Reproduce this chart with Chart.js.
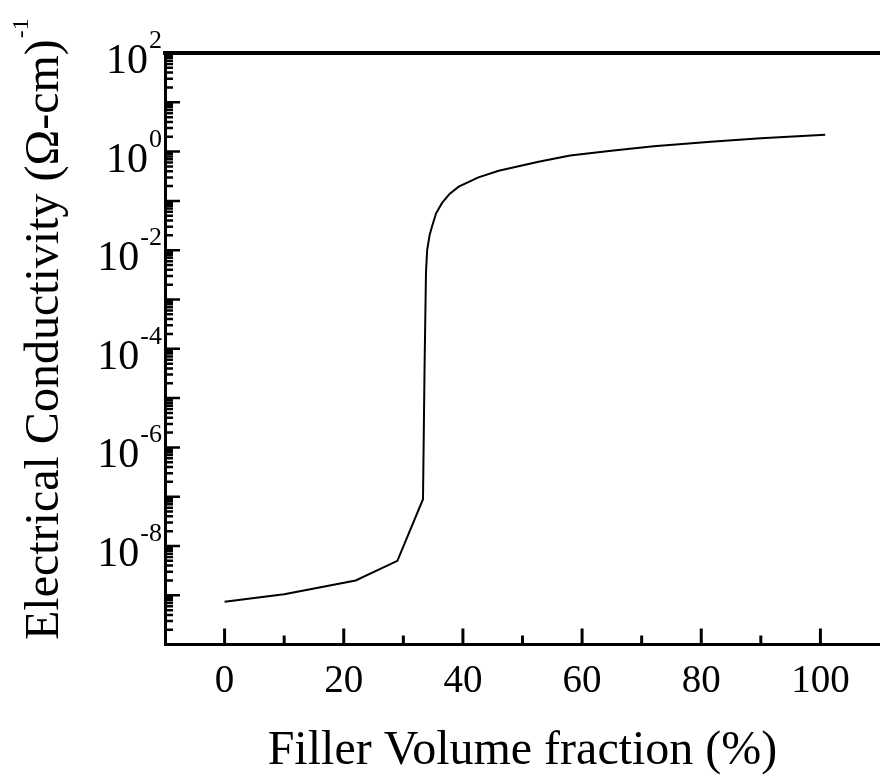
<!DOCTYPE html>
<html>
<head>
<meta charset="utf-8">
<script src="https://cdn.jsdelivr.net/npm/chart.js@4/dist/chart.umd.min.js"></script>
<style>
  html, body { margin: 0; padding: 0; background: #fff; }
  #wrap { width: 880px; height: 780px; }
</style>
</head>
<body>
<div id="wrap"><canvas id="chart" width="880" height="780"></canvas></div>
<script>
// filler volume fraction (%) and conductivity (ohm-cm)^-1
const fillerPct = [0, 10, 22, 29, 33.3, 33.55, 33.8, 34.0, 34.4, 34.8, 35.5, 36.5, 37.8, 39.3, 42.6, 46, 52.7, 58, 64.9, 72, 81.6, 90, 100.8];
const conductivity = [7.4e-10, 1.05e-9, 2.0e-9, 5.0e-9, 8.9e-8, 3.2e-5, 3.5e-3, 0.01, 0.02, 0.03, 0.056, 0.091, 0.14, 0.195, 0.30, 0.41, 0.62, 0.83, 1.04, 1.29, 1.58, 1.86, 2.19];

const xTicks = [0, 20, 40, 60, 80, 100];
const xMinorTicks = [10, 30, 50, 70, 90];
const yLabelExps = [2, 0, -2, -4, -6, -8];

const xTitle = 'Filler Volume fraction (%)';
const yTitle = 'Electrical Conductivity (\u03A9-cm)';
const yTitleSup = '-1';

const FONT = '"Liberation Serif", "Times New Roman", serif';

const axesPlugin = {
  id: 'axesPlugin',
  afterDraw(chart) {
    const ctx = chart.ctx;
    const area = chart.chartArea;
    const xs = chart.scales.x, ys = chart.scales.y;
    ctx.save();
    ctx.strokeStyle = '#000';

    // thick top frame
    ctx.lineWidth = 4;
    ctx.beginPath();
    ctx.moveTo(area.left - 2, area.top);
    ctx.lineTo(area.right, area.top);
    ctx.stroke();

    // inward x ticks
    ctx.lineWidth = 3;
    ctx.beginPath();
    xTicks.forEach(v => {
      const px = xs.getPixelForValue(v);
      ctx.moveTo(px, area.bottom); ctx.lineTo(px, area.bottom - 16);
    });
    xMinorTicks.forEach(v => {
      const px = xs.getPixelForValue(v);
      ctx.moveTo(px, area.bottom); ctx.lineTo(px, area.bottom - 9);
    });
    ctx.stroke();

    // inward y ticks, decades and 2..9 minors
    ctx.lineWidth = 2.5;
    ctx.beginPath();
    for (let e = -10; e <= 2; e++) {
      const py = ys.getPixelForValue(Math.pow(10, e));
      ctx.moveTo(area.left, py); ctx.lineTo(area.left + 15, py);
      if (e === 2) continue;
      for (let m = 2; m <= 9; m++) {
        const pm = ys.getPixelForValue(m * Math.pow(10, e));
        ctx.moveTo(area.left, pm); ctx.lineTo(area.left + 8, pm);
      }
    }
    ctx.stroke();

    // y tick labels 10^n
    ctx.fillStyle = '#000';
    ctx.textBaseline = 'alphabetic';
    yLabelExps.forEach(e => {
      const py = ys.getPixelForValue(Math.pow(10, e));
      ctx.font = '42px ' + FONT;
      const wBase = ctx.measureText('10').width;
      ctx.font = '26px ' + FONT;
      const wExp = ctx.measureText(String(e)).width;
      const right = 162;
      ctx.font = '42px ' + FONT;
      ctx.textAlign = 'left';
      ctx.fillText('10', right - wExp - wBase - 1, py + 20);
      ctx.font = '26px ' + FONT;
      ctx.fillText(String(e), right - wExp, py - 5);
    });

    // y title with superscript
    ctx.translate(58, 640);
    ctx.rotate(-Math.PI / 2);
    ctx.font = '48px ' + FONT;
    ctx.textAlign = 'left';
    ctx.fillText(yTitle, 0, 0);
    const w = ctx.measureText(yTitle).width;
    ctx.font = '24px ' + FONT;
    ctx.fillText(yTitleSup, w + 1, -30);
    ctx.restore();
  }
};

const ctx = document.getElementById('chart').getContext('2d');
new Chart(ctx, {
  type: 'line',
  data: {
    datasets: [{
      data: fillerPct.map((x, i) => ({ x: x, y: conductivity[i] })),
      borderColor: '#000',
      borderWidth: 2,
      pointRadius: 0,
      tension: 0,
      fill: false
    }]
  },
  options: {
    responsive: false,
    animation: false,
    layout: { padding: { left: 165, top: 53, right: 0, bottom: 0 } },
    plugins: { legend: { display: false }, tooltip: { enabled: false } },
    scales: {
      x: {
        type: 'linear',
        min: -10,
        max: 110,
        afterBuildTicks: s => { s.ticks = xTicks.map(v => ({ value: v })); },
        grid: { display: false, drawTicks: false },
        border: { display: true, color: '#000', width: 3 },
        ticks: { color: '#000', font: { family: FONT, size: 39 }, padding: 14, maxRotation: 0 },
        title: { display: true, text: xTitle, color: '#000', font: { family: FONT, size: 48 }, padding: { top: 3, bottom: 0 } }
      },
      y: {
        type: 'logarithmic',
        min: 1e-10,
        max: 1e2,
        grid: { display: false, drawTicks: false },
        border: { display: true, color: '#000', width: 3 },
        ticks: { display: false }
      }
    }
  },
  plugins: [axesPlugin]
});
</script>
</body>
</html>
